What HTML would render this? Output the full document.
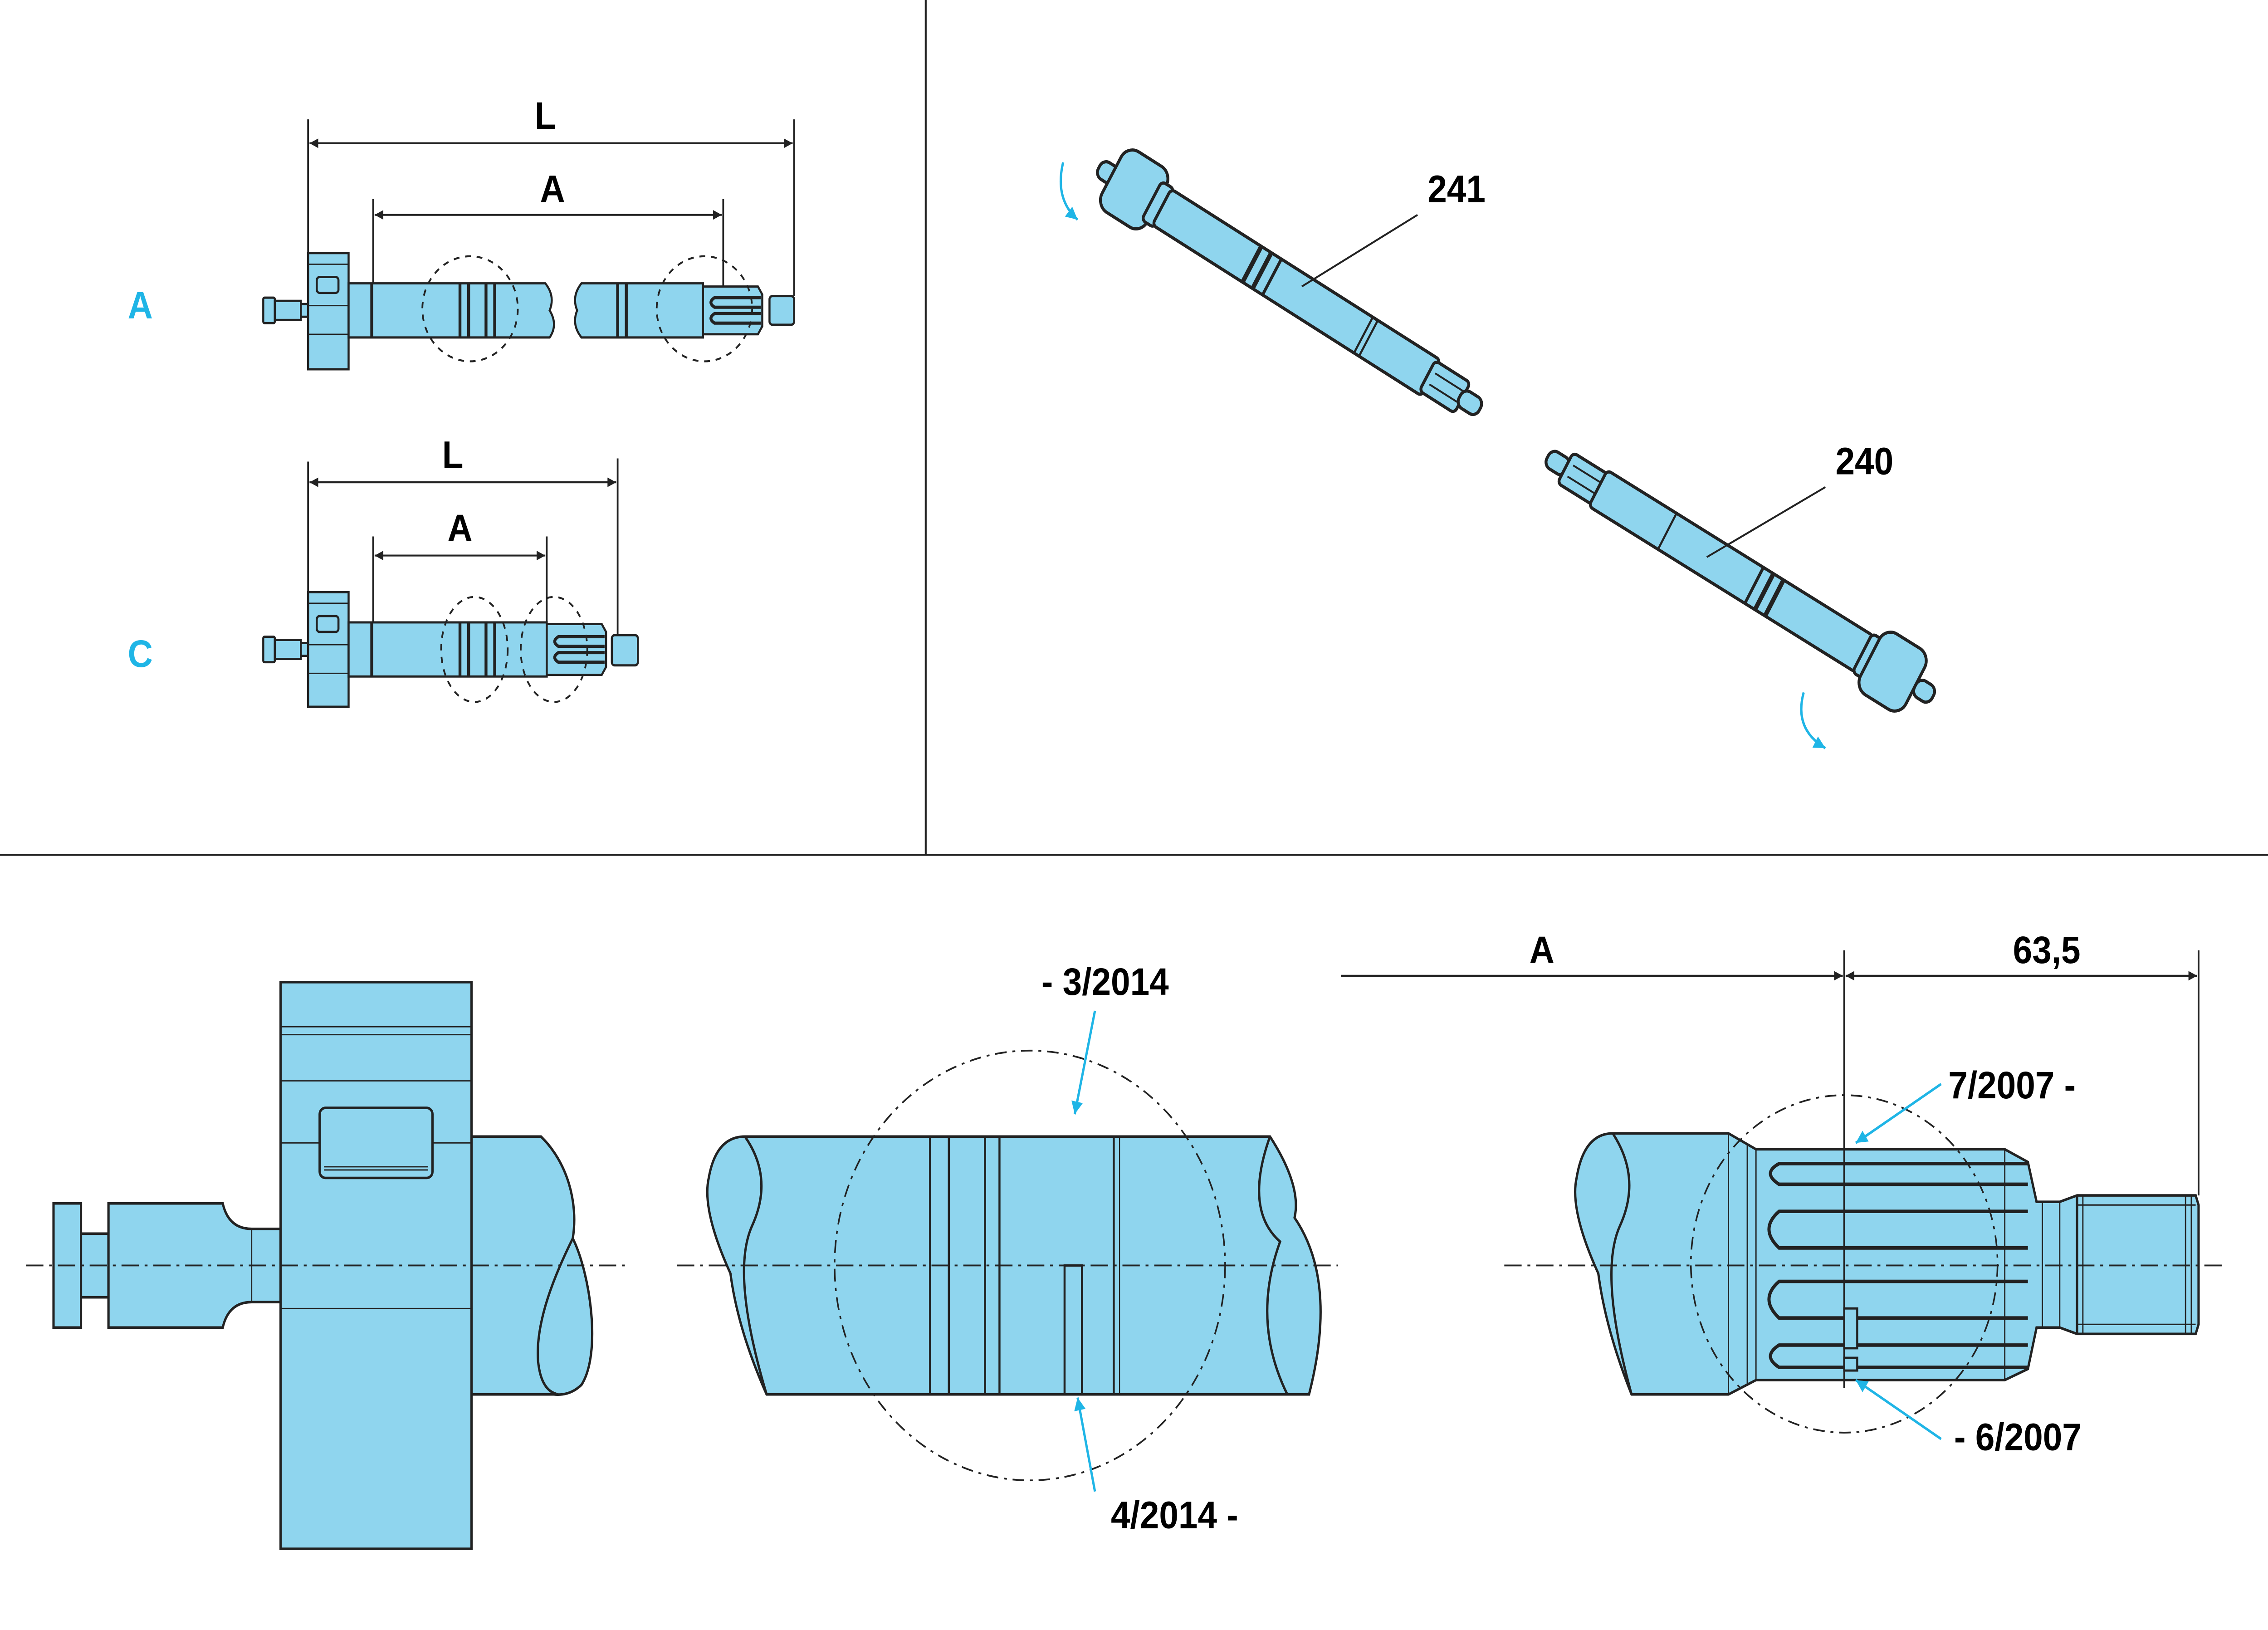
<!DOCTYPE html>
<html><head><meta charset="utf-8"><style>
html,body{margin:0;padding:0;background:#fff;width:100vw;height:100vh;overflow:hidden}
svg{display:block;width:100vw;height:100vh}
text{font-family:"Liberation Sans",Arial,sans-serif;font-weight:bold}
</style></head><body>
<svg viewBox="0 0 1568 1024" preserveAspectRatio="none" xmlns="http://www.w3.org/2000/svg">
<defs>
<marker id="ar" viewBox="0 0 10 10" refX="10" refY="5" markerWidth="18" markerHeight="6" orient="auto-start-reverse" markerUnits="userSpaceOnUse"><path d="M0,0L10,5L0,10z" fill="#222"/></marker>
<marker id="ac" viewBox="0 0 10 10" refX="10" refY="5" markerWidth="12" markerHeight="8" orient="auto" markerUnits="userSpaceOnUse"><path d="M0,0L10,5L0,10z" fill="#1fb5e6"/></marker>
</defs>
<g stroke="#222" stroke-width="1.3" fill="none">
<line x1="640" y1="0" x2="640" y2="537"/>
<line x1="0" y1="537" x2="1568" y2="537"/>
</g>
<!-- Row A -->
<text x="97" y="200" font-size="24" fill="#1fb5e6" text-anchor="middle" font-weight="normal">A</text>
<g stroke="#222" stroke-width="1.4" fill="#8fd5ee">
<rect x="182" y="187" width="8" height="16" rx="1"/>
<rect x="190" y="189" width="18" height="12"/>
<rect x="208" y="191" width="5" height="8"/>
<rect x="213" y="159" width="28" height="73"/>
<rect x="219" y="174" width="15" height="10" rx="2"/>
<path d="M241,178H377Q384,186 380,195Q386,204 380,212H241Z"/>
<path d="M402,178H486V212H402Q395,204 399,195Q395,186 402,178Z"/>
<path d="M486,180H524L527,185V205L524,210H486Z"/>
<rect x="532" y="186" width="17" height="18" rx="2"/>
</g>
<g stroke="#222" stroke-width="0.8"><line x1="213" y1="166" x2="241" y2="166"/><line x1="213" y1="192" x2="241" y2="192"/><line x1="213" y1="210" x2="241" y2="210"/></g>
<g stroke="#222" stroke-width="2">
<line x1="257" y1="178" x2="257" y2="212"/><line x1="318" y1="178" x2="318" y2="212"/><line x1="324" y1="178" x2="324" y2="212"/><line x1="336" y1="178" x2="336" y2="212"/><line x1="342" y1="178" x2="342" y2="212"/><line x1="427" y1="178" x2="427" y2="212"/><line x1="433" y1="178" x2="433" y2="212"/>
<path d="M526,187H494Q489,190 494,193H526M526,197H494Q489,200 494,203H526" fill="none"/>
</g>
<g fill="none" stroke="#222" stroke-dasharray="4,4" stroke-width="1.2"><ellipse cx="325" cy="194" rx="33" ry="33"/><ellipse cx="487" cy="194" rx="33" ry="33"/></g>
<g stroke="#222" stroke-width="1.2" fill="none">
<line x1="213" y1="75" x2="213" y2="159"/><line x1="549" y1="75" x2="549" y2="186"/>
<line x1="258" y1="125" x2="258" y2="178"/><line x1="500" y1="125" x2="500" y2="180"/>
<line x1="214" y1="90" x2="548" y2="90" marker-start="url(#ar)" marker-end="url(#ar)"/>
<line x1="259" y1="135" x2="499" y2="135" marker-start="url(#ar)" marker-end="url(#ar)"/>
</g>
<text x="377" y="81" font-size="24" text-anchor="middle">L</text>
<text x="382" y="127" font-size="24" text-anchor="middle">A</text>
<!-- Row C -->
<text x="97" y="419" font-size="24" fill="#1fb5e6" text-anchor="middle" font-weight="normal">C</text>
<g stroke="#222" stroke-width="1.4" fill="#8fd5ee">
<rect x="182" y="400" width="8" height="16" rx="1"/>
<rect x="190" y="402" width="18" height="12"/>
<rect x="208" y="404" width="5" height="8"/>
<rect x="213" y="372" width="28" height="72"/>
<rect x="219" y="387" width="15" height="10" rx="2"/>
<rect x="241" y="391" width="137" height="34"/>
<path d="M378,392H416L419,397V419L416,424H378Z"/>
<rect x="423" y="399" width="18" height="19" rx="2"/>
</g>
<g stroke="#222" stroke-width="0.8"><line x1="213" y1="379" x2="241" y2="379"/><line x1="213" y1="405" x2="241" y2="405"/><line x1="213" y1="423" x2="241" y2="423"/></g>
<g stroke="#222" stroke-width="2">
<line x1="257" y1="391" x2="257" y2="425"/><line x1="318" y1="391" x2="318" y2="425"/><line x1="324" y1="391" x2="324" y2="425"/><line x1="336" y1="391" x2="336" y2="425"/><line x1="342" y1="391" x2="342" y2="425"/>
<path d="M418,400H386Q381,403 386,406H418M418,410H386Q381,413 386,416H418" fill="none"/>
</g>
<g fill="none" stroke="#222" stroke-dasharray="4,4" stroke-width="1.2"><ellipse cx="328" cy="408" rx="23" ry="33"/><ellipse cx="383" cy="408" rx="23" ry="33"/></g>
<g stroke="#222" stroke-width="1.2" fill="none">
<line x1="213" y1="290" x2="213" y2="372"/><line x1="427" y1="288" x2="427" y2="399"/>
<line x1="258" y1="337" x2="258" y2="391"/><line x1="378" y1="337" x2="378" y2="392"/>
<line x1="214" y1="303" x2="426" y2="303" marker-start="url(#ar)" marker-end="url(#ar)"/>
<line x1="259" y1="349" x2="377" y2="349" marker-start="url(#ar)" marker-end="url(#ar)"/>
</g>
<text x="313" y="294" font-size="24" text-anchor="middle">L</text>
<text x="318" y="340" font-size="24" text-anchor="middle">A</text>
<!-- Shaft 241 -->
<g transform="translate(772,112) rotate(30)" stroke="#222" stroke-width="2" fill="#8fd5ee">
<rect x="-14" y="-6" width="14" height="12" rx="5"/>
<rect x="-4" y="-22" width="36" height="44" rx="9"/>
<rect x="28" y="-14" width="10" height="28" rx="3"/>
<rect x="36" y="-13" width="215" height="26" rx="3"/>
<rect x="248" y="-11" width="28" height="22" rx="3"/>
<rect x="274" y="-6" width="16" height="12" rx="5"/>
<line x1="108" y1="-13" x2="108" y2="13" stroke-width="3"/><line x1="116" y1="-13" x2="116" y2="13" stroke-width="3"/><line x1="124" y1="-13" x2="124" y2="13" stroke-width="2"/><line x1="197" y1="-13" x2="197" y2="13" stroke-width="1.4"/><line x1="201" y1="-13" x2="201" y2="13" stroke-width="1.4"/>
<line x1="252" y1="-4" x2="274" y2="-4" stroke-width="1.2"/><line x1="252" y1="4" x2="274" y2="4" stroke-width="1.2"/>
</g>
<line x1="980" y1="135" x2="900" y2="180" stroke="#222" stroke-width="1.2"/>
<text x="1007" y="127" font-size="24" text-anchor="middle">241</text>
<path d="M735,102Q729,125 745,138" fill="none" stroke="#1fb5e6" stroke-width="1.6" marker-end="url(#ac)"/>
<!-- Shaft 240 -->
<g transform="translate(1070,287) rotate(29.5)" stroke="#222" stroke-width="2" fill="#8fd5ee">
<rect x="0" y="-6" width="16" height="12" rx="5"/>
<rect x="14" y="-11" width="28" height="22" rx="3"/>
<rect x="40" y="-13" width="212" height="26" rx="3"/>
<rect x="250" y="-14" width="10" height="28" rx="3"/>
<rect x="256" y="-22" width="36" height="44" rx="9"/>
<rect x="292" y="-6" width="14" height="12" rx="5"/>
<line x1="164" y1="-13" x2="164" y2="13" stroke-width="2"/><line x1="172" y1="-13" x2="172" y2="13" stroke-width="3"/><line x1="180" y1="-13" x2="180" y2="13" stroke-width="3"/><line x1="95" y1="-13" x2="95" y2="13" stroke-width="1.4"/>
<line x1="18" y1="-4" x2="40" y2="-4" stroke-width="1.2"/><line x1="18" y1="4" x2="40" y2="4" stroke-width="1.2"/>
</g>
<line x1="1262" y1="306" x2="1180" y2="350" stroke="#222" stroke-width="1.2"/>
<text x="1289" y="298" font-size="24" text-anchor="middle">240</text>
<path d="M1247,435Q1240,458 1262,470" fill="none" stroke="#1fb5e6" stroke-width="1.6" marker-end="url(#ac)"/>
<!-- Bottom left -->
<g stroke="#222" stroke-width="1.6" fill="#8fd5ee">
<path d="M326,714H374C392,730 400,755 396,778C408,800 416,850 402,870Q394,877 383,876H326Z"/>
<path d="M396,778C384,800 370,830 372,855Q374,874 386,876" fill="none"/>
<rect x="37" y="756" width="19" height="78"/>
<rect x="56" y="775" width="19" height="40"/>
<path d="M75,756H154Q158,772 174,772H194V818H174Q158,818 154,834H75Z"/>
<rect x="194" y="617" width="132" height="356"/>
<rect x="221" y="696" width="78" height="44" rx="4"/>
</g>
<g stroke="#222" stroke-width="0.8" fill="none">
<line x1="194" y1="645" x2="326" y2="645"/><line x1="194" y1="650" x2="326" y2="650"/><line x1="194" y1="679" x2="326" y2="679"/><line x1="194" y1="718" x2="221" y2="718"/><line x1="299" y1="718" x2="326" y2="718"/><line x1="194" y1="822" x2="326" y2="822"/><line x1="174" y1="772" x2="174" y2="818"/><line x1="224" y1="735" x2="296" y2="735"/><line x1="224" y1="733" x2="296" y2="733"/>
</g>
<line x1="18" y1="795" x2="432" y2="795" stroke="#222" stroke-width="1.1" stroke-dasharray="12,4,2,4"/>
<!-- Bottom middle -->
<g stroke="#222" stroke-width="1.6" fill="#8fd5ee">
<path d="M515,714H878Q900,745 895,765Q925,805 905,876H530Q510,835 505,800Q485,760 490,740Q495,714 515,714Z"/>
<path d="M515,714Q535,740 520,770Q505,800 530,876" fill="none"/>
<path d="M878,714Q860,760 885,780Q865,830 890,876" fill="none"/>
</g>
<g stroke="#222" stroke-width="1.4">
<line x1="643" y1="714" x2="643" y2="876"/><line x1="656" y1="714" x2="656" y2="876"/><line x1="681" y1="714" x2="681" y2="876"/><line x1="691" y1="714" x2="691" y2="876"/><line x1="770" y1="714" x2="770" y2="876"/><line x1="774" y1="714" x2="774" y2="876" stroke-width="0.7"/>
<path d="M736,876V795H748V876" fill="none"/>
</g>
<circle cx="712" cy="795" r="135" fill="none" stroke="#222" stroke-width="1.1" stroke-dasharray="8,4,2,4"/>
<line x1="468" y1="795" x2="925" y2="795" stroke="#222" stroke-width="1.1" stroke-dasharray="12,4,2,4"/>
<line x1="757" y1="635" x2="743" y2="700" stroke="#1fb5e6" stroke-width="1.6" marker-end="url(#ac)"/>
<line x1="757" y1="937" x2="745" y2="878" stroke="#1fb5e6" stroke-width="1.6" marker-end="url(#ac)"/>
<text x="720" y="625" font-size="24">-  3/2014</text>
<text x="768" y="960" font-size="24">4/2014  -</text>
<!-- Bottom right -->
<g stroke="#222" stroke-width="1.6" fill="#8fd5ee">
<path d="M1115,712H1195L1214,722H1386L1402,730L1408,755H1424L1436,751H1518L1520,757V832L1518,838H1436L1424,834H1408L1402,860L1386,867H1214L1195,876H1128Q1110,835 1105,800Q1085,760 1090,740Q1095,712 1115,712Z"/>
<path d="M1115,712Q1135,740 1120,770Q1105,800 1128,876" fill="none"/>
</g>
<g stroke="#222" stroke-width="2.2" fill="none">
<path d="M1402,731H1230Q1218,737 1230,744H1402"/>
<path d="M1402,761H1230Q1216,772 1230,784H1402"/>
<path d="M1402,805H1230Q1216,816 1230,828H1402"/>
<path d="M1402,845H1230Q1218,852 1230,859H1402"/>
</g>
<g stroke="#222" stroke-width="0.9" fill="none">
<line x1="1195" y1="712" x2="1195" y2="876"/><line x1="1208" y1="719" x2="1208" y2="870"/><line x1="1214" y1="722" x2="1214" y2="867"/>
<line x1="1386" y1="722" x2="1386" y2="867"/><line x1="1412" y1="755" x2="1412" y2="834"/><line x1="1424" y1="755" x2="1424" y2="834"/>
<line x1="1436" y1="751" x2="1436" y2="838" stroke-width="1.6"/><line x1="1440" y1="751" x2="1440" y2="838"/><line x1="1511" y1="751" x2="1511" y2="838"/><line x1="1515" y1="751" x2="1515" y2="838"/>
<line x1="1436" y1="757" x2="1518" y2="757"/><line x1="1436" y1="832" x2="1518" y2="832"/>
<rect x="1275" y="822" width="9" height="25" fill="#8fd5ee" stroke-width="1.4"/><rect x="1275" y="853" width="9" height="8" fill="#8fd5ee" stroke-width="1.4"/>
</g>
<circle cx="1275" cy="794" r="106" fill="none" stroke="#222" stroke-width="1.1" stroke-dasharray="8,4,2,4"/>
<line x1="1040" y1="795" x2="1540" y2="795" stroke="#222" stroke-width="1.1" stroke-dasharray="12,4,2,4"/>
<g stroke="#222" stroke-width="1.2" fill="none">
<line x1="1275" y1="597" x2="1275" y2="872"/><line x1="1520" y1="597" x2="1520" y2="751"/>
<line x1="927" y1="613" x2="1274" y2="613" marker-end="url(#ar)"/>
<line x1="1276" y1="613" x2="1519" y2="613" marker-start="url(#ar)" marker-end="url(#ar)"/>
</g>
<text x="1066" y="605" font-size="24" text-anchor="middle">A</text>
<text x="1415" y="605" font-size="24" text-anchor="middle">63,5</text>
<line x1="1342" y1="681" x2="1283" y2="718" stroke="#1fb5e6" stroke-width="1.6" marker-end="url(#ac)"/>
<line x1="1342" y1="904" x2="1283" y2="867" stroke="#1fb5e6" stroke-width="1.6" marker-end="url(#ac)"/>
<text x="1347" y="690" font-size="24">7/2007  -</text>
<text x="1351" y="911" font-size="24">-  6/2007</text>
</svg>
</body></html>
